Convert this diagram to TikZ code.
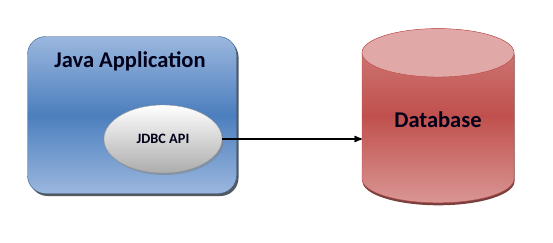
\documentclass[tikz,border=0pt]{standalone}
\usepackage{fontspec}
\setmainfont{Carlito}
\usetikzlibrary{arrows, positioning, shapes.geometric, shadows, calc}

\definecolor{appblue}{HTML}{4C7FBE}
\definecolor{applight}{HTML}{9BB7DE}
\definecolor{appedge}{HTML}{3A5F8E}
\definecolor{dbred}{HTML}{C0504D}
\definecolor{dblight}{HTML}{D99694}
\definecolor{dbcap}{HTML}{E0A9A8}
\definecolor{dbedge}{HTML}{BE4B48}

\begin{document}
\begin{tikzpicture}[x=1pt,y=1pt,
  app node/.style={rectangle,rounded corners=18pt,draw=appedge,
    top color=applight,bottom color=applight,middle color=appblue,
    minimum width=209pt,minimum height=157pt,
    drop shadow={shadow xshift=2pt,shadow yshift=-2.5pt,fill=black!80!appedge,opacity=.7}},
  title node/.style={font=\bfseries\fontsize{22.5}{26}\selectfont,text=black!90!blue},
  api node/.style={ellipse,draw=gray!80,top color=white,bottom color=gray!65,
    minimum width=118pt,minimum height=68pt,inner sep=0pt,
    font=\bfseries\fontsize{14.3}{16}\selectfont,text=black!90!blue,
    drop shadow={shadow xshift=1.5pt,shadow yshift=-2pt,fill=gray,opacity=.5}},
  db node/.style={cylinder,shape border rotate=90,aspect=0.55,draw=dbedge,
    top color=dblight!70!dbred,bottom color=dblight,middle color=dbred,
    minimum height=174pt,minimum width=152pt,inner sep=0pt,text depth=16pt,
    font=\bfseries\fontsize{22.5}{26}\selectfont,text=black!90!blue,
    drop shadow={shadow xshift=.5pt,shadow yshift=-2.5pt,fill=dbred!55!black,opacity=.9}}]
  \useasboundingbox[fill=white] (0,0) rectangle (553,242);
  \node[app node] (app) at (132,127) {};
  \node[title node] (title) [below=12pt of app.north, xshift=-2pt] {Java Application};
  \node[api node] (api) at (163,103) {JDBC API};
  \node[db node, anchor=south] (db) at (438,39) {Database};
  % lid of the drum, taken from the shape's own anchors
  \filldraw[draw=dbedge,fill=dbcap]
     let \p1=(db.before top), \p2=(db.top) in
     (\x2,\y1) ellipse [x radius=76pt, y radius=\y2-\y1];
  \path[->,>=stealth',line width=1.6pt]
     (api.east) edge (api.east -| db.west);
\end{tikzpicture}
\end{document}
